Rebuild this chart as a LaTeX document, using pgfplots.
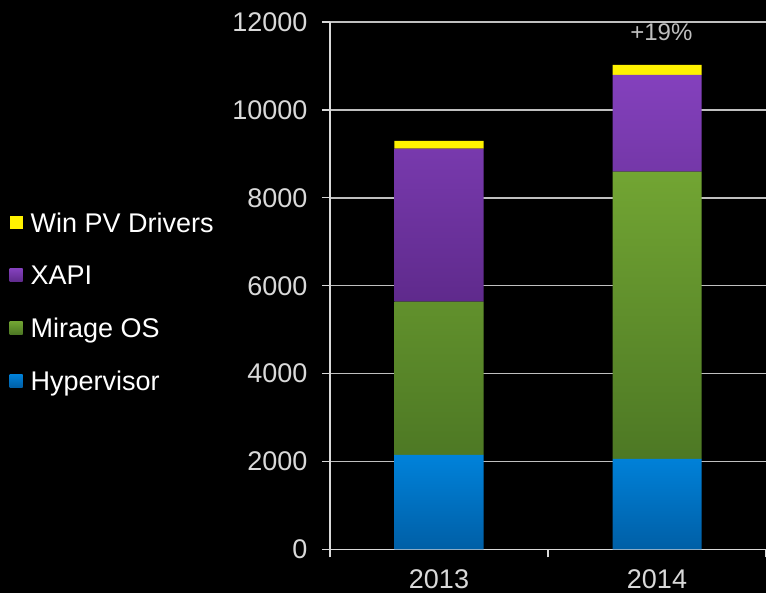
\documentclass[border=0pt]{standalone}
\usepackage{pgfplots}
\pgfplotsset{compat=1.18}
\usepackage{fontspec}
\setmainfont{Liberation Sans}
\definecolor{axcol}{HTML}{D9D9D9}
\definecolor{gridcol}{HTML}{BFBFBF}
\definecolor{bluetop}{HTML}{0082DA}
\definecolor{bluebot}{HTML}{005FA6}
\definecolor{greentop}{HTML}{72A533}
\definecolor{greenbot}{HTML}{4D7824}
\definecolor{purptop}{HTML}{8441BD}
\definecolor{purpbot}{HTML}{5F2A8C}
\begin{document}
\begin{tikzpicture}
\useasboundingbox (0,0) rectangle (766pt,593pt);
\fill[black] (0,0) rectangle (766pt,593pt);
\begin{axis}[
  at={(330pt,43.5pt)}, anchor=south west,
  scale only axis, width=436pt, height=527.5pt,
  ybar stacked, bar width=89pt,
  xmin=-0.5, xmax=1.5, ymin=0, ymax=12000,
  axis lines*=left,
  axis line style={color=axcol, line width=1.3pt},
  xtick={-0.5,0.5,1.5}, xticklabels={},
  extra x ticks={0,1}, extra x tick labels={2013,2014},
  extra x tick style={major tick length=0pt},
  ytick={0,2000,...,12000},
  scaled y ticks=false,
  tick align=outside, major tick length=8pt,
  tick style={color=axcol, line width=1.3pt},
  ymajorgrids,
  grid style={color=gridcol, line width=1.5pt},
  /pgf/number format/assume math mode=true,
  /pgf/number format/1000 sep={},
  tick label style={font=\fontsize{27}{31}\selectfont, color=axcol},
  yticklabel style={xshift=-11pt},
  xticklabel style={yshift=-17pt},
  clip=false,
  reverse legend,
  legend cell align=left,
  legend style={at={(-0.742,0.469)}, anchor=west, draw=none, fill=none,
    text=white, font=\fontsize{27}{31}\selectfont, row sep=28pt},
  legend image code/.code={\fill[#1] (0pt,-6pt) rectangle (13pt,7pt); \path (19pt,0pt);},
]
\addplot[draw=none, top color=bluetop, bottom color=bluebot] coordinates {(0,2150) (1,2060)};
\addlegendentry{Hypervisor}
\addplot[draw=none, top color=greentop, bottom color=greenbot] coordinates {(0,3487) (1,6535)};
\addlegendentry{Mirage OS}
\addplot[draw=none, top color=purptop, bottom color=purpbot] coordinates {(0,3485) (1,2200)};
\addlegendentry{XAPI}
\addplot[draw=none, fill=yellow] coordinates {(0,171) (1,227)};
\addlegendentry{Win PV Drivers}
\node[text=gridcol, font=\fontsize{24}{28}\selectfont] at (axis cs:1.02,11772) {+19\%};
\end{axis}
\end{tikzpicture}
\end{document}
